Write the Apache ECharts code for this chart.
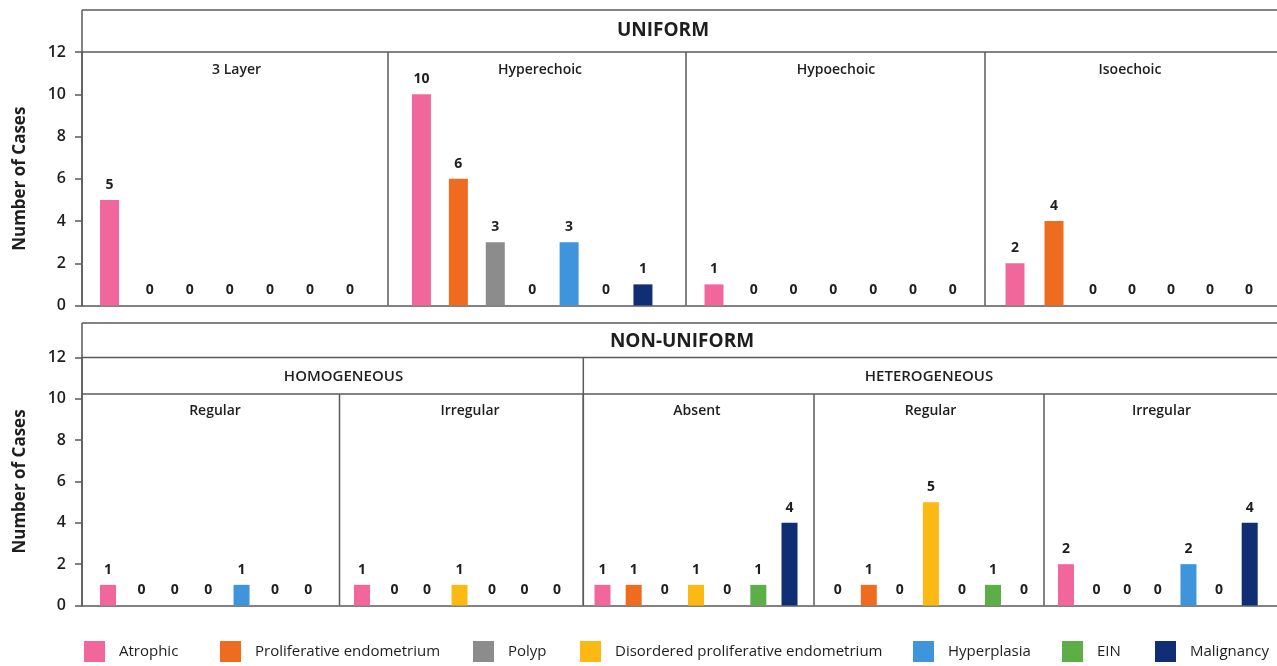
<!DOCTYPE html>
<html>
<head>
<meta charset="utf-8">
<title>Endometrial pattern by histology</title>
<script src="https://cdn.jsdelivr.net/npm/echarts@6/dist/echarts.min.js"></script>
<style>
  html, body { margin: 0; padding: 0; background: #ffffff; }
  #chart { width: 1277px; height: 666px; }
</style>
</head>
<body>
<div id="chart"></div>
<script>
// Histology categories (one bar per category inside every panel)
const categories = [
  'Atrophic',
  'Proliferative endometrium',
  'Polyp',
  'Disordered proliferative endometrium',
  'Hyperplasia',
  'EIN',
  'Malignancy'
];

// Uniform echogenicity panels
const uniform3Layer      = [5, 0, 0, 0, 0, 0, 0];
const uniformHyperechoic = [10, 6, 3, 0, 3, 0, 1];
const uniformHypoechoic  = [1, 0, 0, 0, 0, 0, 0];
const uniformIsoechoic   = [2, 4, 0, 0, 0, 0, 0];

// Non-uniform: homogeneous panels
const homogeneousRegular   = [1, 0, 0, 0, 1, 0, 0];
const homogeneousIrregular = [1, 0, 0, 1, 0, 0, 0];

// Non-uniform: heterogeneous panels
const heterogeneousAbsent    = [1, 1, 0, 1, 0, 1, 4];
const heterogeneousRegular   = [0, 1, 0, 5, 0, 1, 0];
const heterogeneousIrregular = [2, 0, 0, 0, 2, 0, 4];

// Y axis range / tick step
const yMin = 0;
const yMax = 12;
const yStep = 2;

const rowTitles = ['UNIFORM', 'NON-UNIFORM'];
const groupTitles = ['HOMOGENEOUS', 'HETEROGENEOUS'];
const panelTitles = ['3 Layer', 'Hyperechoic', 'Hypoechoic', 'Isoechoic',
                     'Regular', 'Irregular', 'Absent', 'Regular', 'Irregular'];
const panelValues = [uniform3Layer, uniformHyperechoic, uniformHypoechoic, uniformIsoechoic,
                     homogeneousRegular, homogeneousIrregular,
                     heterogeneousAbsent, heterogeneousRegular, heterogeneousIrregular];

// ---- styling & layout ----
const palette = ['#f2679b', '#ef6b1f', '#8c8c8c', '#fdb913', '#3f95dc', '#5cae47', '#0f2e74'];
const FONT = '"Open Sans", "Noto Sans", sans-serif';
const INK = '#1e1e1e';
const RULE = '#5a5a5a';
const RULE_W = 1.5;
const RIGHT = 1277;

const rows = [
  { boxTop: 10,  top: 52,    height: 253.5, headerY: 31,    headerX: 663, titleY: 70 },
  { boxTop: 323, top: 357.5, height: 248,   headerY: 341.5, headerX: 682, titleY: 411.5,
    groupLine: 394, groupY: 376.5 }
];

// frame x-range of each panel, plotting band for its seven bars, bar width, title centre
const panels = [
  { row: 0, x0: 82,    x1: 388,   gl: 89.5,   gw: 280.6, bw: 19, tx: 236.5 },
  { row: 0, x0: 388,   x1: 686,   gl: 403,    gw: 258.4, bw: 19, tx: 540 },
  { row: 0, x0: 686,   x1: 985,   gl: 694.1,  gw: 278.5, bw: 19, tx: 836 },
  { row: 0, x0: 985,   x1: RIGHT, gl: 995.5,  gw: 273,   bw: 19, tx: 1130 },
  { row: 1, x0: 82,    x1: 339.5, gl: 91.3,   gw: 233.7, bw: 16, tx: 215 },
  { row: 1, x0: 339.5, x1: 583.3, gl: 345.75, gw: 227.5, bw: 16, tx: 470 },
  { row: 1, x0: 583.3, x1: 814,   gl: 586.9,  gw: 218.2, bw: 16, tx: 697 },
  { row: 1, x0: 814,   x1: 1044,  gl: 822.2,  gw: 217.4, bw: 16, tx: 930.5 },
  { row: 1, x0: 1044,  x1: RIGHT, gl: 1050.7, gw: 214.3, bw: 16, tx: 1161.5 }
];
const groups = [
  { x0: 82,    x1: 583.3, tx: 343.5 },
  { x0: 583.3, x1: RIGHT, tx: 929 }
];
// left edge of each legend key along the bottom
const legendLeft = [84, 220, 473, 580, 913, 1062, 1155];

const grid = [], xAxis = [], yAxis = [], series = [], graphic = [];

// row frames carrying the shared y axis and the baseline
rows.forEach((r, i) => {
  grid.push({ left: 82, width: RIGHT - 82, top: r.top, height: r.height });
  xAxis.push({
    gridIndex: i, type: 'category', data: [''],
    axisLine: { show: true, lineStyle: { color: RULE, width: RULE_W } },
    axisTick: { show: false }, axisLabel: { show: false }, splitLine: { show: false }
  });
  yAxis.push({
    gridIndex: i, type: 'value', min: yMin, max: yMax, interval: yStep,
    name: 'Number of Cases', nameLocation: 'middle', nameGap: 53,
    nameTextStyle: { fontFamily: FONT, fontSize: 17, fontWeight: 'bold', color: INK },
    axisLine: { show: true, lineStyle: { color: RULE, width: RULE_W } },
    axisTick: { show: true, length: 7, lineStyle: { color: RULE, width: RULE_W } },
    axisLabel: { margin: 16, fontFamily: FONT, fontSize: 16, fontWeight: 600, color: INK },
    splitLine: { show: false }
  });
});

// one grid per facet panel
panels.forEach((p, k) => {
  const r = rows[p.row];
  const gi = rows.length + k;
  grid.push({ left: p.gl, width: p.gw, top: r.top, height: r.height });
  xAxis.push({ gridIndex: gi, type: 'category', data: categories, show: false });
  yAxis.push({ gridIndex: gi, type: 'value', min: yMin, max: yMax, interval: yStep, show: false });
  categories.forEach((cat, c) => {
    series.push({
      type: 'bar',
      name: cat,
      xAxisIndex: gi,
      yAxisIndex: gi,
      barWidth: p.bw,
      barGap: '-100%',
      itemStyle: { color: palette[c] },
      label: {
        show: true, position: 'top', distance: 8,
        fontFamily: FONT, fontSize: 14, fontWeight: 'bold', color: INK
      },
      data: panelValues[k].map((v, j) => (j === c ? v : '-'))
    });
  });
});

// strip frames, dividers and facet titles
function line(x1, y1, x2, y2) {
  return { type: 'line', silent: true, z: 10,
           shape: { x1, y1, x2, y2 }, style: { stroke: RULE, lineWidth: RULE_W } };
}
function label(text, x, y, size, weight) {
  return { type: 'text', silent: true, z: 10, x, y,
           style: { text, fill: INK, font: weight + ' ' + size + 'px ' + FONT,
                    textAlign: 'center', textVerticalAlign: 'middle',
                    align: 'center', verticalAlign: 'middle' } };
}

rows.forEach((r, i) => {
  const bottom = r.top + r.height;
  graphic.push(line(82, r.boxTop, RIGHT, r.boxTop));
  graphic.push(line(82, r.boxTop, 82, bottom));
  graphic.push(line(82, r.top, RIGHT, r.top));
  graphic.push(label(rowTitles[i], r.headerX, r.headerY, 19, 'bold'));
});

graphic.push(line(82, rows[1].groupLine, RIGHT, rows[1].groupLine));
groups.forEach((g, i) => {
  graphic.push(label(groupTitles[i], g.tx, rows[1].groupY, 15, 600));
  if (i > 0) graphic.push(line(g.x0, rows[1].top, g.x0, rows[1].top + rows[1].height));
});

panels.forEach((p, k) => {
  const r = rows[p.row];
  const panelTop = p.row === 1 ? r.groupLine : r.top;
  if (p.x0 > 82) graphic.push(line(p.x0, panelTop, p.x0, r.top + r.height));
  graphic.push(label(panelTitles[k], p.tx, r.titleY, 14, 600));
});

// one legend entry per category, laid out along the bottom
const legend = categories.map((cat, c) => ({
  data: [cat],
  left: legendLeft[c], top: 641, padding: 0,
  icon: 'rect', itemWidth: 21, itemHeight: 21,
  textStyle: { fontFamily: FONT, fontSize: 15, color: INK, padding: [0, 0, 0, 9] },
  selectedMode: false
}));

const chart = echarts.init(document.getElementById('chart'), null, { renderer: 'canvas' });
chart.setOption({
  backgroundColor: '#ffffff',
  animation: false,
  textStyle: { fontFamily: FONT },
  grid, xAxis, yAxis, series, graphic, legend
});
</script>
</body>
</html>
